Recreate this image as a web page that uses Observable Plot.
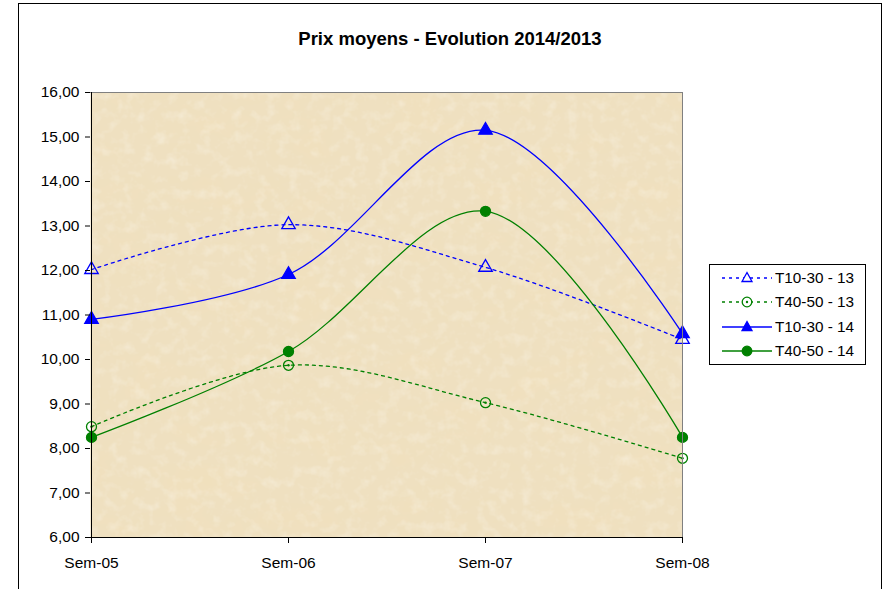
<!DOCTYPE html>
<html><head><meta charset="utf-8">
<script src="https://cdn.jsdelivr.net/npm/d3@7"></script>
<script src="https://cdn.jsdelivr.net/npm/@observablehq/plot@0.6"></script>
<style>
body{margin:0;background:#fff;font-family:Arial,"Liberation Sans",sans-serif;}
#wrap{position:relative;width:888px;height:589px;overflow:hidden;}
#border{position:absolute;left:18px;top:3px;width:864px;height:620px;border:1px solid #000;box-sizing:border-box;}
#title{position:absolute;left:0;width:900px;top:28px;text-align:center;font-weight:bold;font-size:18.5px;color:#000;}
#chart{position:absolute;left:0;top:0;}
#chart svg text{font-size:15.5px;fill:#000;}
#legend{position:absolute;left:709px;top:264px;width:157px;height:101px;border:1px solid #000;box-sizing:border-box;background:#fff;font-size:15.3px;}
#legend .row{position:absolute;left:0;height:20px;display:flex;align-items:center;white-space:nowrap;}
#legend svg{display:block}
</style></head>
<body>
<div id="wrap">
<div id="border"></div>
<div id="title">Prix moyens - Evolution 2014/2013</div>
<div id="chart"></div>
<div id="legend"></div>
</div>
<script>
const weeks = ["Sem-05","Sem-06","Sem-07","Sem-08"];
const seriesNames = ["T10-30 - 13","T40-50 - 13","T10-30 - 14","T40-50 - 14"];
const t1030_13 = [12.02, 13.03, 12.07, 10.45];
const t4050_13 = [8.49, 9.87, 9.03, 7.78];
const t1030_14 = [10.90, 11.91, 15.15, 10.58];
const t4050_14 = [8.25, 10.18, 13.33, 8.25];
const yTicks = [6,7,8,9,10,11,12,13,14,15,16];

const styles = [
  {color:"#0000ff", dash:"3,4", symbol:"triangle", fill:"none"},
  {color:"#008000", dash:"3,4", symbol:"circle", fill:"none", inner:true},
  {color:"#0000ff", dash:null, symbol:"triangle", fill:"#0000ff"},
  {color:"#008000", dash:null, symbol:"circle", fill:"#008000"}
];
const values = [t1030_13, t4050_13, t1030_14, t4050_14];
const rows = [];
values.forEach((vals, si) => vals.forEach((v, i) => rows.push({series: seriesNames[si], si, week: weeks[i], value: v})));

const fmt = d => d.toFixed(2).replace(".", ",");
const marks = [Plot.frame({fill:"#efe0c0", stroke:null})];
styles.forEach((s, si) => {
  const data = rows.filter(r => r.si === si);
  marks.push(Plot.line(data, {x:"week", y:"value", stroke:s.color, strokeWidth:1.3, strokeDasharray:s.dash, curve:"catmull-rom"}));
});
styles.forEach((s, si) => {
  const data = rows.filter(r => r.si === si);
  marks.push(Plot.dot(data, {x:"week", y:"value", symbol:s.symbol, r:5, stroke:s.color, strokeWidth:1.3, fill:s.fill}));
  if (s.inner) marks.push(Plot.dot(data, {x:"week", y:"value", r:1.2, fill:s.color, stroke:null}));
});
marks.push(Plot.ruleY([16], {stroke:"#808080", strokeWidth:1}));
marks.push(Plot.ruleX(["Sem-08"], {stroke:"#808080", strokeWidth:1}));
marks.push(Plot.ruleY([6], {stroke:"#000", strokeWidth:1}));
marks.push(Plot.ruleX(["Sem-05"], {stroke:"#000", strokeWidth:1}));
marks.push(Plot.axisY({ticks:yTicks, tickFormat:fmt, tickSize:5, tickPadding:6, fontSize:15.5, color:"#000", label:null}));
marks.push(Plot.axisX({tickSize:6, tickPadding:13, fontSize:15.5, color:"#000", label:null}));

const chart = Plot.plot({
  width:888, height:589,
  marginLeft:90, marginRight:206, marginTop:92, marginBottom:52,
  style:{fontFamily:"Arial, 'Liberation Sans', sans-serif", fontSize:"15.5px", background:"transparent", overflow:"visible"},
  x:{type:"point", domain:weeks, padding:0},
  y:{domain:[6,16]},
  marks
});
document.getElementById("chart").appendChild(chart);

// paper texture
const svg = d3.select(chart);
const defs = svg.insert("defs", ":first-child");
const f = defs.append("filter").attr("id","paper").attr("x",0).attr("y",0).attr("width","100%").attr("height","100%");
f.append("feTurbulence").attr("type","fractalNoise").attr("baseFrequency","0.018 0.028").attr("numOctaves",4).attr("seed",7).attr("result","n");
f.append("feColorMatrix").attr("in","n").attr("type","matrix")
 .attr("values","0 0 0 0 0.88  0 0 0 0 0.75  0 0 0 0 0.50  1.3 0 0 0 -0.55");
const f2 = defs.append("filter").attr("id","paper2").attr("x",0).attr("y",0).attr("width","100%").attr("height","100%");
f2.append("feTurbulence").attr("type","fractalNoise").attr("baseFrequency","0.09").attr("numOctaves",3).attr("seed",3).attr("result","n");
f2.append("feColorMatrix").attr("in","n").attr("type","matrix")
 .attr("values","0 0 0 0 0.97  0 0 0 0 0.94  0 0 0 0 0.86  0 0.8 0 0 -0.38");
const node = svg.select("[aria-label=frame]").node();
if (node) {
  const rect = node.tagName === "rect" ? d3.select(node) : d3.select(node).select("rect");
  const attrs = {x:rect.attr("x"), y:rect.attr("y"), width:rect.attr("width"), height:rect.attr("height")};
  const after = node.nextSibling;
  ["paper","paper2"].forEach(id => {
    const r = document.createElementNS("http://www.w3.org/2000/svg","rect");
    for (const k in attrs) r.setAttribute(k, attrs[k]);
    r.setAttribute("fill","#fff");
    r.setAttribute("filter",`url(#${id})`);
    node.parentNode.insertBefore(r, after);
  });
}

// legend
const leg = document.getElementById("legend");
const rowTops = [3, 27, 52, 76];
styles.forEach((s, i) => {
  const row = document.createElement("div");
  row.className = "row";
  row.style.top = rowTops[i] + "px";
  const ns = "http://www.w3.org/2000/svg";
  const sv = document.createElementNS(ns, "svg");
  sv.setAttribute("width", 64); sv.setAttribute("height", 20);
  const ln = document.createElementNS(ns, "line");
  ln.setAttribute("x1", 12); ln.setAttribute("x2", 62); ln.setAttribute("y1", 10); ln.setAttribute("y2", 10);
  ln.setAttribute("stroke", s.color); ln.setAttribute("stroke-width", 1.3);
  if (s.dash) ln.setAttribute("stroke-dasharray", s.dash);
  sv.appendChild(ln);
  let m;
  if (s.symbol === "triangle") {
    m = document.createElementNS(ns, "path");
    m.setAttribute("d", "M37,4.5 L42,13.5 L32,13.5 Z");
  } else {
    m = document.createElementNS(ns, "circle");
    m.setAttribute("cx", 37); m.setAttribute("cy", 10); m.setAttribute("r", 4.8);
  }
  m.setAttribute("fill", s.fill === "none" ? "#fff" : s.fill);
  m.setAttribute("stroke", s.color); m.setAttribute("stroke-width", 1.3);
  sv.appendChild(m);
  if (s.inner) {
    const c = document.createElementNS(ns, "circle");
    c.setAttribute("cx", 37); c.setAttribute("cy", 10); c.setAttribute("r", 1.2); c.setAttribute("fill", s.color);
    sv.appendChild(c);
  }
  row.appendChild(sv);
  const t = document.createElement("span");
  t.textContent = seriesNames[i];
  t.style.marginLeft = "1px";
  row.appendChild(t);
  leg.appendChild(row);
});
</script>
</body></html>
